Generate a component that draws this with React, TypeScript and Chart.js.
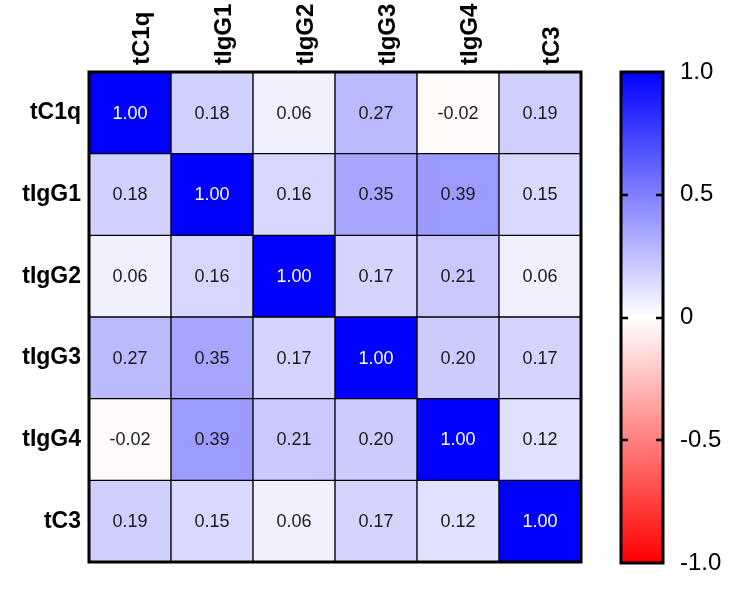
import React, { useEffect, useRef } from "react";
import { Chart, registerables } from "chart.js";

Chart.register(...registerables);

const FONT = "'Liberation Sans', Arial, Helvetica, sans-serif";

// Variables, in display order (left-to-right columns, top-to-bottom rows)
const variables = ["tC1q", "tIgG1", "tIgG2", "tIgG3", "tIgG4", "tC3"];

// Pearson correlation coefficients, one array per row
const rowC1q = [1.0, 0.18, 0.06, 0.27, -0.02, 0.19];
const rowIgG1 = [0.18, 1.0, 0.16, 0.35, 0.39, 0.15];
const rowIgG2 = [0.06, 0.16, 1.0, 0.17, 0.21, 0.06];
const rowIgG3 = [0.27, 0.35, 0.17, 1.0, 0.2, 0.17];
const rowIgG4 = [-0.02, 0.39, 0.21, 0.2, 1.0, 0.12];
const rowC3 = [0.19, 0.15, 0.06, 0.17, 0.12, 1.0];

const matrixRows = [rowC1q, rowIgG1, rowIgG2, rowIgG3, rowIgG4, rowC3];

// Color bar range and tick values
const scaleMin = -1;
const scaleMax = 1;
const colorbarTicks = [-1, -0.5, 0, 0.5, 1];

// Diverging red - white - blue scale
function corrColor(v: number): string {
  const t = Math.max(-1, Math.min(1, v));
  if (t >= 0) {
    const c = Math.round(255 * (1 - t));
    return `rgb(${c},${c},255)`;
  }
  const c = Math.round(255 * (1 + t));
  return `rgb(255,${c},${c})`;
}

function Heatmap() {
  const ref = useRef<HTMLCanvasElement | null>(null);
  useEffect(() => {
    if (!ref.current) return;
    const n = variables.length;
    // stacked from the bottom: the last row is the first dataset
    const datasets = matrixRows
      .map((row, r) => ({ row, r }))
      .reverse()
      .map(({ row, r }) => ({
        label: variables[r],
        data: row.map(() => 1),
        corr: row,
        backgroundColor: row.map(corrColor),
        borderColor: "#000",
        borderWidth: 1,
        borderSkipped: false as const,
        barPercentage: 1,
        categoryPercentage: 1,
      }));

    const frame = {
      id: "frame",
      afterDatasetsDraw(chart: any) {
        const { ctx, chartArea } = chart;
        ctx.save();
        // cell values
        ctx.font = `18px ${FONT}`;
        ctx.textAlign = "center";
        ctx.textBaseline = "middle";
        chart.data.datasets.forEach((ds: any, di: number) => {
          const meta = chart.getDatasetMeta(di);
          meta.data.forEach((bar: any, j: number) => {
            const v = ds.corr[j];
            const p = bar.getProps(["x", "y", "base"], true);
            ctx.fillStyle = v > 0.6 ? "#ffffff" : "#1a1a1a";
            ctx.fillText(v.toFixed(2), p.x, (p.y + p.base) / 2 + 1);
          });
        });
        // heavy outer frame
        ctx.strokeStyle = "#000";
        ctx.lineWidth = 3;
        ctx.strokeRect(
          chartArea.left,
          chartArea.top,
          chartArea.right - chartArea.left,
          chartArea.bottom - chartArea.top
        );
        ctx.restore();
      },
    };

    const chart = new Chart(ref.current, {
      type: "bar",
      data: { labels: variables, datasets: datasets as any },
      options: {
        animation: false,
        responsive: false,
        devicePixelRatio: 1,
        layout: { padding: { left: 0, top: 0, right: 19, bottom: 34 } },
        plugins: { legend: { display: false }, tooltip: { enabled: false } },
        scales: {
          x: {
            position: "top",
            stacked: true,
            grid: { display: false, drawTicks: false, tickLength: 0 },
            border: { display: false },
            ticks: {
              minRotation: 90,
              maxRotation: 90,
              padding: 7,
              labelOffset: 41,
              color: "#000",
              font: { family: FONT, size: 24, weight: "bold" },
            },
            afterFit(axis: any) {
              axis.height = 72;
            },
          },
          y: {
            type: "linear",
            stacked: true,
            min: 0,
            max: n,
            grid: { display: false, drawTicks: false, tickLength: 0 },
            border: { display: false },
            afterBuildTicks(axis: any) {
              axis.ticks = variables.map((_, i) => ({ value: i + 0.5 }));
            },
            ticks: {
              autoSkip: false,
              padding: 8,
              color: "#000",
              font: { family: FONT, size: 23, weight: "bold" },
              callback: (value: any) => variables[n - 1 - Math.floor(Number(value))],
            },
            afterFit(axis: any) {
              axis.width = 89;
            },
          },
        },
      } as any,
      plugins: [frame],
    });
    return () => chart.destroy();
  }, []);
  return (
    <canvas
      ref={ref}
      width={600}
      height={596}
      style={{ position: "absolute", left: 0, top: 0, width: 600, height: 596 }}
    />
  );
}

function ColorBar() {
  const ref = useRef<HTMLCanvasElement | null>(null);
  useEffect(() => {
    if (!ref.current) return;
    const decor = {
      id: "barFrame",
      afterDatasetsDraw(chart: any) {
        const { ctx, chartArea } = chart;
        const ys = chart.scales.y;
        ctx.save();
        ctx.strokeStyle = "#000";
        ctx.lineWidth = 3;
        ctx.strokeRect(
          chartArea.left,
          ys.getPixelForValue(scaleMax),
          chartArea.right - chartArea.left,
          ys.getPixelForValue(scaleMin) - ys.getPixelForValue(scaleMax)
        );
        // inward tick marks on both sides
        ctx.lineWidth = 2.5;
        colorbarTicks
          .filter((t) => t > scaleMin && t < scaleMax)
          .forEach((t) => {
            const py = Math.round(ys.getPixelForValue(t));
            ctx.beginPath();
            ctx.moveTo(chartArea.left, py);
            ctx.lineTo(chartArea.left + 7, py);
            ctx.moveTo(chartArea.right - 7, py);
            ctx.lineTo(chartArea.right, py);
            ctx.stroke();
          });
        ctx.restore();
      },
    };

    const chart = new Chart(ref.current, {
      type: "bar",
      data: {
        labels: [""],
        datasets: [
          {
            data: [[scaleMin, scaleMax]] as any,
            barPercentage: 1,
            categoryPercentage: 1,
            borderWidth: 0,
            backgroundColor: (c: any) => {
              const { chart } = c;
              const area = chart.chartArea;
              if (!area || !isFinite(area.top) || !isFinite(area.bottom)) return "#ffffff";
              const g = chart.ctx.createLinearGradient(0, area.top, 0, area.bottom);
              g.addColorStop(0, corrColor(1));
              g.addColorStop(0.5, corrColor(0));
              g.addColorStop(1, corrColor(-1));
              return g;
            },
          },
        ],
      },
      options: {
        animation: false,
        responsive: false,
        devicePixelRatio: 1,
        layout: { padding: { left: 21, top: 72, right: 0, bottom: 33 } },
        plugins: { legend: { display: false }, tooltip: { enabled: false } },
        scales: {
          x: { display: false },
          y: {
            position: "right",
            min: scaleMin,
            max: scaleMax,
            grid: { display: false, drawTicks: false, tickLength: 0 },
            border: { display: false },
            afterBuildTicks(axis: any) {
              axis.ticks = colorbarTicks.map((v) => ({ value: v }));
            },
            ticks: {
              autoSkip: false,
              padding: 17,
              color: "#000",
              font: { family: FONT, size: 24 },
              callback: (value: any) => {
                const v = Number(value);
                return v === 0 ? "0" : v.toFixed(1);
              },
            },
            afterFit(axis: any) {
              axis.width = 87;
            },
          },
        },
      } as any,
      plugins: [decor],
    });
    return () => chart.destroy();
  }, []);
  return (
    <canvas
      ref={ref}
      width={150}
      height={596}
      style={{ position: "absolute", left: 600, top: 0, width: 150, height: 596 }}
    />
  );
}

export default function App() {
  return (
    <div
      style={{
        position: "absolute",
        left: 0,
        top: 0,
        width: 750,
        height: 596,
        background: "#ffffff",
        overflow: "hidden",
      }}
    >
      <Heatmap />
      <ColorBar />
    </div>
  );
}
